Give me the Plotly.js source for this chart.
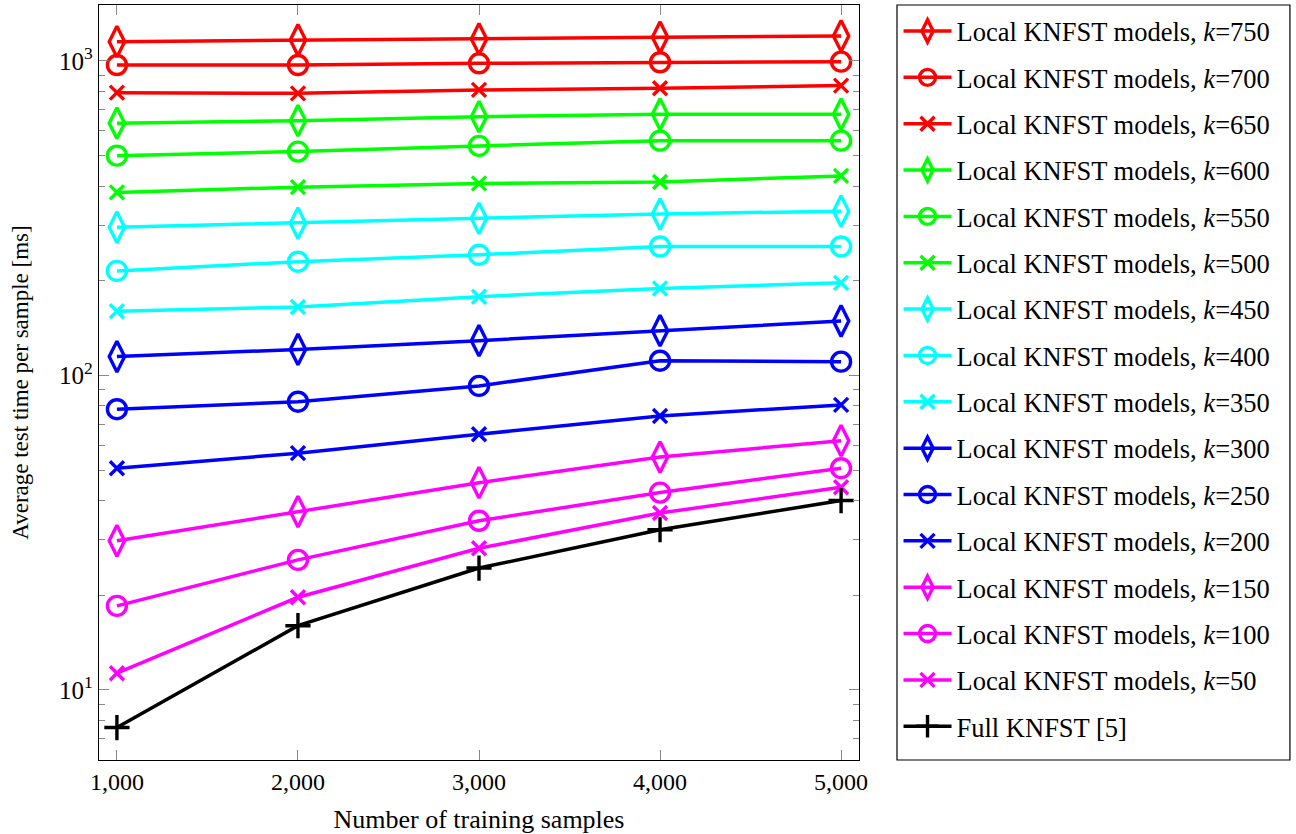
<!DOCTYPE html>
<html>
<head>
<meta charset="utf-8">
<script src="https://cdn.plot.ly/plotly-3.0.1.min.js"></script>
<style>html,body{margin:0;padding:0;background:#fff;}#chart{width:1296px;height:834px;}</style>
</head>
<body>
<div id="chart"></div>
<script>
const samples = [1000, 2000, 3000, 4000, 5000];

const k750 = [1152, 1166, 1175, 1190, 1201];
const k700 = [971, 971, 983, 991, 995];
const k650 = [793, 789, 809, 819, 835];
const k600 = [634, 646, 665, 677, 677];
const k550 = [500, 515, 537, 558, 558];
const k500 = [382, 397, 408, 412, 431];
const k450 = [296, 305, 316, 326, 333];
const k400 = [215, 230, 242, 257, 257];
const k350 = [160, 165, 178, 189, 197];
const k300 = [114.8, 121, 129, 138.8, 149];
const k250 = [78.1, 82.5, 92.6, 111.4, 110.6];
const k200 = [50.7, 56.6, 65, 74.3, 80.6];
const k150 = [29.8, 36.9, 45.6, 55, 62];
const k100 = [18.5, 25.9, 34.5, 42.4, 50.7];
const k50 = [11.3, 19.7, 28.2, 36.5, 44.1];
const fullKNFST = [7.59, 16.0, 24.4, 32.3, 40.0];

const yTickVals = [10, 100, 1000];
const yTickText = ['10<sup>1</sup>', '10<sup>2</sup>', '10<sup>3</sup>'];

const seriesNames = [
  'Local KNFST models, <i>k</i>=750',
  'Local KNFST models, <i>k</i>=700',
  'Local KNFST models, <i>k</i>=650',
  'Local KNFST models, <i>k</i>=600',
  'Local KNFST models, <i>k</i>=550',
  'Local KNFST models, <i>k</i>=500',
  'Local KNFST models, <i>k</i>=450',
  'Local KNFST models, <i>k</i>=400',
  'Local KNFST models, <i>k</i>=350',
  'Local KNFST models, <i>k</i>=300',
  'Local KNFST models, <i>k</i>=250',
  'Local KNFST models, <i>k</i>=200',
  'Local KNFST models, <i>k</i>=150',
  'Local KNFST models, <i>k</i>=100',
  'Local KNFST models, <i>k</i>=50',
  'Full KNFST [5]'
];
const seriesValues = [k750, k700, k650, k600, k550, k500, k450, k400, k350, k300, k250, k200, k150, k100, k50, fullKNFST];
const seriesColors = ['#ff0000','#ff0000','#ff0000','#00ff00','#00ff00','#00ff00','#00ffff','#00ffff','#00ffff','#0000ff','#0000ff','#0000ff','#ff00ff','#ff00ff','#ff00ff','#000000'];
const seriesSymbols = ['diamond-tall-open','circle-open','x-thin-open','diamond-tall-open','circle-open','x-thin-open','diamond-tall-open','circle-open','x-thin-open','diamond-tall-open','circle-open','x-thin-open','diamond-tall-open','circle-open','x-thin-open','cross-thin-open'];
const symbolSizes = {'diamond-tall-open': 22, 'circle-open': 19, 'x-thin-open': 14, 'cross-thin-open': 18};

// minor tick positions of the log axis (2..9 in each decade)
const minorTicks = [];
[1, 10, 100, 1000].forEach(d => { for (let m = 2; m <= 9; m++) minorTicks.push(m * d); });

const traces = seriesNames.map((name, i) => ({
  x: samples,
  y: seriesValues[i],
  name: name,
  legendgroup: 'g' + i,
  type: 'scatter',
  mode: 'lines+markers',
  line: {color: seriesColors[i], width: 3.5},
  marker: {
    symbol: seriesSymbols[i],
    size: symbolSizes[seriesSymbols[i]],
    color: seriesColors[i],
    line: {color: seriesColors[i], width: 3.4}
  }
}));

const serif = 'Liberation Serif, Times New Roman, serif';

const layout = {
  width: 1296,
  height: 834,
  margin: {l: 99, r: 437, t: 5, b: 74},
  paper_bgcolor: '#ffffff',
  plot_bgcolor: '#ffffff',
  font: {family: serif, size: 22, color: '#000'},
  showlegend: true,
  legend: {
    x: 1.052, xanchor: 'left', y: 0.997, yanchor: 'top',
    borderwidth: 0,
    bgcolor: 'rgba(0,0,0,0)',
    font: {family: serif, size: 26.5, color: '#000'},
    traceorder: 'grouped',
    tracegroupgap: 8.9,
    itemwidth: 48
  },
  shapes: [{
    type: 'rect', xref: 'paper', yref: 'paper',
    x0: 1.05, x1: 1.567, y0: 0, y1: 1,
    line: {color: '#000', width: 1.2}, fillcolor: 'rgba(0,0,0,0)'
  }],
  xaxis: {
    range: [901, 5099],
    tickvals: samples,
    separatethousands: true,
    tickformat: ',d',
    ticks: 'inside', ticklen: 10, tickcolor: '#888', tickwidth: 1,
    showline: true, linecolor: '#000', linewidth: 1.2, mirror: 'ticks',
    showgrid: false, zeroline: false,
    tickfont: {family: serif, size: 24},
    title: {text: 'Number of training samples', font: {family: serif, size: 26}, standoff: 16}
  },
  yaxis: {
    type: 'log',
    range: [0.777, 3.178],
    tickmode: 'array',
    tickvals: yTickVals,
    ticktext: yTickText,
    ticks: 'inside', ticklen: 10, tickcolor: '#888', tickwidth: 1,
    minor: {tickmode: 'array', tickvals: minorTicks, ticks: 'inside', ticklen: 6, tickcolor: '#888', tickwidth: 1, showgrid: false},
    showline: true, linecolor: '#000', linewidth: 1.2, mirror: 'ticks',
    showgrid: false, zeroline: false,
    tickfont: {family: serif, size: 25},
    title: {text: 'Average test time per sample [ms]', font: {family: serif, size: 23}, standoff: 24}
  }
};

Plotly.newPlot('chart', traces, layout, {displayModeBar: false, staticPlot: true});
</script>
</body>
</html>
